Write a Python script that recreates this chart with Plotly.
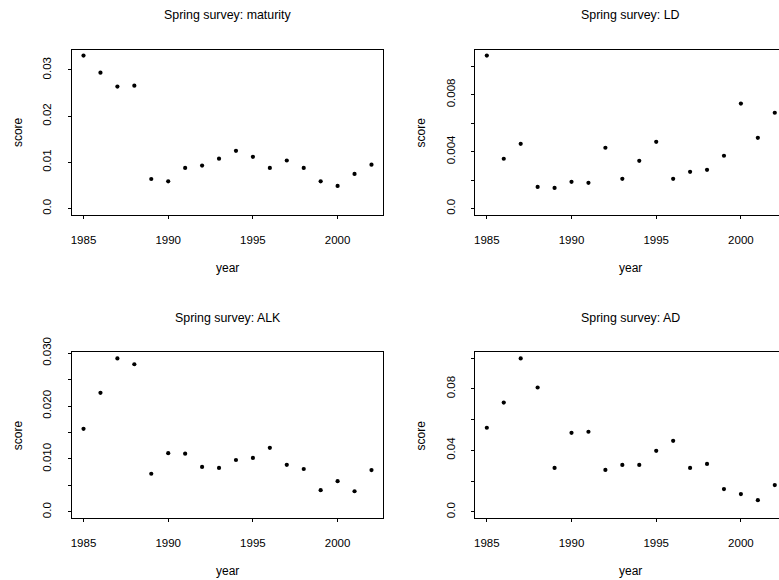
import plotly.graph_objects as go

# ---- data ----
years = list(range(1985, 2003))
maturity = [0.0331, 0.0294, 0.0264, 0.0266, 0.0064, 0.0059, 0.0088, 0.0093, 0.0108,
            0.0125, 0.0112, 0.0088, 0.0104, 0.0088, 0.0059, 0.0049, 0.0075, 0.0095]
ld = [0.01074, 0.00350, 0.00455, 0.00152, 0.00145, 0.00188, 0.00181, 0.00427, 0.00209,
      0.00335, 0.00469, 0.00209, 0.00258, 0.00272, 0.00371, 0.00737, 0.00497, 0.00673]
alk = [0.0157, 0.0225, 0.0290, 0.0279, 0.0072, 0.0111, 0.0110, 0.0085, 0.0083,
       0.0098, 0.0102, 0.0121, 0.0089, 0.0081, 0.0041, 0.0058, 0.0039, 0.0079]
ad = [0.0547, 0.0711, 0.0998, 0.0809, 0.0286, 0.0514, 0.0521, 0.0273, 0.0305,
      0.0305, 0.0397, 0.0462, 0.0286, 0.0312, 0.0148, 0.0116, 0.0076, 0.0174]

titles = ["Spring survey: maturity", "Spring survey: LD",
          "Spring survey: ALK", "Spring survey: AD"]
series = [maturity, ld, alk, ad]
ytickvals = [
    [0, 0.01, 0.02, 0.03],
    [0, 0.002, 0.004, 0.006, 0.008, 0.010],
    [0, 0.005, 0.010, 0.015, 0.020, 0.025, 0.030],
    [0, 0.02, 0.04, 0.06, 0.08, 0.10],
]
yticktext = [
    ["0.0", "0.01", "0.02", "0.03"],
    ["0.0", "", "0.004", "", "0.008", ""],
    ["0.0", "", "0.010", "", "0.020", "", "0.030"],
    ["0.0", "", "0.04", "", "0.08", ""],
]
xtickvals = [1985, 1990, 1995, 2000]
xticktext = ["1985", "1990", "1995", "2000"]

# ---- layout geometry (pixels) ----
W, H = 779, 580
FONT = "Liberation Sans, Arial, Helvetica, sans-serif"
boxes = [  # left, right, top, bottom (px); right panels are cut at the page edge
    (72.0, 383.0, 49.5, 214.7),
    (475.3, 786.3, 49.5, 214.7),
    (72.0, 383.0, 352.3, 518.0),
    (475.3, 786.3, 352.3, 518.0),
]

fig = go.Figure()
span = max(years) - min(years)
xlo, xhi = min(years) - 0.04 * span, max(years) + 0.04 * span

layout = dict(
    width=W, height=H,
    margin=dict(l=0, r=0, t=0, b=0, pad=0, autoexpand=False),
    paper_bgcolor="white", plot_bgcolor="white",
    showlegend=False,
    font=dict(family=FONT, color="black", size=12),
)
annotations = []

for i, (vals, title) in enumerate(zip(series, titles)):
    n = "" if i == 0 else str(i + 1)
    L, R, T, B = boxes[i]
    Rvis = min(R, W)
    x_hi = xlo + (Rvis - L) / (R - L) * (xhi - xlo)
    ymax = max(vals)
    fig.add_trace(go.Scatter(
        x=years, y=vals, mode="markers",
        marker=dict(color="black", size=4.2),
        xaxis="x" + n, yaxis="y" + n, hoverinfo="skip",
    ))
    clipped = R > W
    layout["xaxis" + n] = dict(
        domain=[L / W, Rvis / W], range=[xlo, x_hi], anchor="y" + n,
        automargin=False,
        showgrid=False, zeroline=False, showline=True, linecolor="black",
        linewidth=1, mirror=True, ticks="outside", ticklen=3, tickwidth=1,
        tickcolor="black", tickvals=xtickvals, ticktext=xticktext,
        tickfont=dict(family=FONT, size=11.5, color="black"),
        ticklabelstandoff=11,
    )
    layout["yaxis" + n] = dict(
        domain=[1 - B / H, 1 - T / H], range=[-0.04 * ymax, 1.04 * ymax],
        anchor="x" + n, automargin=False,
        showgrid=False, zeroline=False, showline=True,
        linecolor="black", linewidth=1, mirror=not clipped,
        ticks="outside", ticklen=3, tickwidth=1, tickcolor="black",
        tickvals=ytickvals[i], ticktext=yticktext[i], tickangle=-90,
        tickfont=dict(family=FONT, size=11.5, color="black"),
        ticklabelstandoff=12,
    )
    cx = (L + R) / 2
    annotations.append(dict(text=title, x=cx / W, y=1 - (T - 34) / H,
                            xref="paper", yref="paper", showarrow=False,
                            xanchor="center", yanchor="middle",
                            font=dict(family=FONT, size=12.4, color="black")))
    annotations.append(dict(text="year", x=cx / W,
                            y=1 - (B + 53) / H, xref="paper", yref="paper",
                            showarrow=False, xanchor="center", yanchor="middle",
                            font=dict(family=FONT, size=12, color="black")))
    annotations.append(dict(text="score", x=(L - 54) / W, y=1 - ((T + B) / 2) / H,
                            xref="paper", yref="paper", showarrow=False,
                            textangle=-90, xanchor="center", yanchor="middle",
                            font=dict(family=FONT, size=12, color="black")))

layout["annotations"] = annotations
fig.update_layout(**layout)
fig.write_html("out.html")
